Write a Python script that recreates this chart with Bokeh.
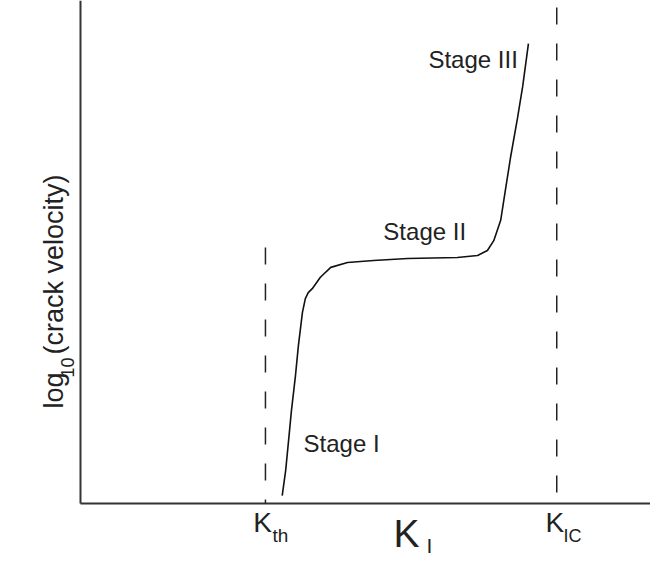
from bokeh.plotting import figure
from bokeh.models import Range1d, Label
from bokeh.embed import file_html
from bokeh.resources import INLINE

# Curve data (K_I and log10 crack velocity, arbitrary units)
k_values = [3.49, 3.55, 3.60, 3.65, 3.72, 3.77, 3.84, 3.89, 3.94, 4.01, 4.15, 4.33,
            4.62, 5.07, 5.66, 6.52, 6.87, 7.04, 7.15, 7.27, 7.35, 7.44, 7.56, 7.65, 7.75]
log_v = [0.16, 0.67, 1.27, 1.88, 2.59, 3.19, 3.86, 4.14, 4.26, 4.34, 4.57, 4.77,
         4.87, 4.91, 4.95, 4.97, 5.01, 5.11, 5.31, 5.72, 6.32, 6.99, 7.78, 8.42, 9.29]

k_th = 3.20
k_ic = 8.24
k_th_top = 5.17
k_ic_top = 10.02

stage_labels = ["Stage I", "Stage II", "Stage III"]
stage_x = [3.86, 5.24, 6.02]
stage_y = [1.22, 5.50, 8.98]

FONT = "Liberation Sans"
DARK = "#222222"
AXIS = "#333333"

X0, X1 = -1.384, 9.862
Y0, Y1 = -1.152, 10.162

p = figure(width=650, height=560, output_backend="svg", toolbar_location=None,
           x_range=Range1d(X0, X1), y_range=Range1d(Y0, Y1),
           min_border_left=0, min_border_right=0, min_border_top=0, min_border_bottom=0)
p.outline_line_color = None
p.grid.visible = False
p.axis.visible = False
p.background_fill_color = "white"

# axis spines (origin of the value scales)
p.line([0, 0], [0, Y1], line_width=2, line_color=AXIS)
p.line([0, X1], [0, 0], line_width=2, line_color=AXIS)

# dashed reference lines (drawn top-down so the dash pattern starts at the top)
p.line([k_th, k_th], [k_th_top, 0], line_dash="17 19", line_width=1.5, line_color=DARK)
p.line([k_ic, k_ic], [k_ic_top, 0], line_dash="17 19", line_width=1.5, line_color=DARK)

# curve
p.line(k_values, log_v, line_width=1.6, line_color="#111111")


def add(x, y, text, size, **kw):
    p.add_layout(Label(x=x, y=y, text=text, text_font=FONT, text_font_size=size,
                       text_color=DARK, text_baseline="alphabetic", text_align="left", **kw))


for t, x, y in zip(stage_labels, stage_x, stage_y):
    add(x, y, t, "24px")

# x tick labels with subscripts
add(2.99, -0.392, "K", "28px")
add(3.32, -0.642, "th", "19px")
add(8.045, -0.392, "K", "28px")
add(8.356, -0.650, "IC", "18px")

# x axis title K_I
add(5.415, -0.606, "K", "39px")
add(5.986, -0.848, "I", "21px")

# y axis title log10(crack velocity)
add(-0.450, 1.919, "log", "27px", angle=1.5708)
add(-0.218, 2.545, "10", "18px", angle=1.5708)
add(-0.450, 3.010, "(crack velocity)", "27px", angle=1.5708)

open("out.html", "w").write(file_html(p, INLINE))
